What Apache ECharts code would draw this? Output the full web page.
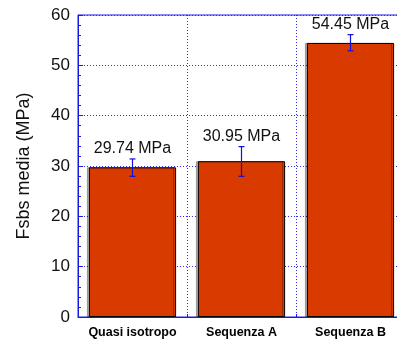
<!DOCTYPE html>
<html>
<head>
<meta charset="utf-8">
<script src="https://cdn.jsdelivr.net/npm/echarts@6/dist/echarts.min.js"></script>
<style>
  html, body { margin: 0; padding: 0; background: #fff; }
  #chart { width: 397px; height: 340px; }
</style>
</head>
<body>
<div id="chart"></div>
<script>
// Mean short-beam strength per laminate layup, with standard deviation
const categories = ['Quasi isotropo', 'Sequenza A', 'Sequenza B'];
const means = [29.74, 30.95, 54.45];
const errLow = [27.95, 27.95, 52.9];
const errHigh = [31.4, 33.85, 56.1];
const valueLabels = ['29.74 MPa', '30.95 MPa', '54.45 MPa'];
const yTicks = [0, 10, 20, 30, 40, 50, 60];

const FONT = '"Liberation Sans", Arial, Helvetica, sans-serif';
const BLUE = '#1a1ae6';
const GRID_BLUE = '#2b2bff';

const chart = echarts.init(document.getElementById('chart'));

chart.setOption({
  animation: false,
  grid: {
    left: 78, top: 15, width: 327, height: 302,
    outerBoundsMode: 'none',
    containLabel: false,
    show: true, borderColor: BLUE, borderWidth: 1, backgroundColor: 'transparent'
  },
  xAxis: {
    type: 'category',
    data: categories,
    axisLine: { lineStyle: { color: BLUE, width: 1 } },
    axisTick: { show: true, inside: true, length: 3, interval: 0, lineStyle: { color: BLUE } },
    axisLabel: { interval: 0, fontFamily: FONT, fontSize: 12.5, fontWeight: 'bold', color: '#000', margin: 9 },
    splitLine: { show: true, interval: 0, lineStyle: { color: GRID_BLUE, opacity: 1, type: [1, 2], width: 1 } }
  },
  yAxis: {
    type: 'value',
    min: yTicks[0], max: yTicks[yTicks.length - 1], interval: 10,
    name: 'Fsbs media (MPa)',
    nameLocation: 'middle',
    nameGap: 45,
    nameTextStyle: { fontFamily: FONT, fontSize: 18, color: '#111' },
    axisLine: { show: true, lineStyle: { color: BLUE, width: 1 } },
    axisTick: { show: true, inside: true, length: 5, lineStyle: { color: BLUE } },
    minorTick: { show: true, splitNumber: 5, length: 3, lineStyle: { color: BLUE } },
    axisLabel: { fontFamily: FONT, fontSize: 17, color: '#111', margin: 8 },
    splitLine: { show: true, lineStyle: { color: GRID_BLUE, type: [1, 2], width: 1 } }
  },
  series: [
    {
      type: 'bar',
      data: means,
      barCategoryGap: '20%',
      itemStyle: {
        color: '#d83a00',
        borderColor: '#000',
        borderWidth: 1,
        shadowColor: 'rgba(0,0,0,0.3)',
        shadowOffsetX: -2,
        shadowBlur: 0
      },
      z: 2
    },
    {
      type: 'custom',
      z: 5,
      data: categories.map((c, i) => [i, errLow[i], errHigh[i], means[i]]),
      renderItem: function (params, api) {
        const i = api.value(0);
        const lo = api.coord([i, api.value(1)]);
        const hi = api.coord([i, api.value(2)]);
        const cap = 3;
        const st = { stroke: '#1010e0', lineWidth: 1.2 };
        return {
          type: 'group',
          children: [
            { type: 'line', shape: { x1: hi[0], y1: hi[1], x2: lo[0], y2: lo[1] }, style: st },
            { type: 'line', shape: { x1: hi[0] - cap, y1: hi[1], x2: hi[0] + cap, y2: hi[1] }, style: st },
            { type: 'line', shape: { x1: lo[0] - cap, y1: lo[1], x2: lo[0] + cap, y2: lo[1] }, style: st },
            {
              type: 'text',
              style: {
                x: hi[0], y: hi[1] - 10,
                text: valueLabels[params.dataIndex],
                font: '16px ' + FONT,
                fill: '#111',
                align: 'center',
                verticalAlign: 'middle'
              }
            }
          ]
        };
      }
    }
  ]
});
</script>
</body>
</html>
